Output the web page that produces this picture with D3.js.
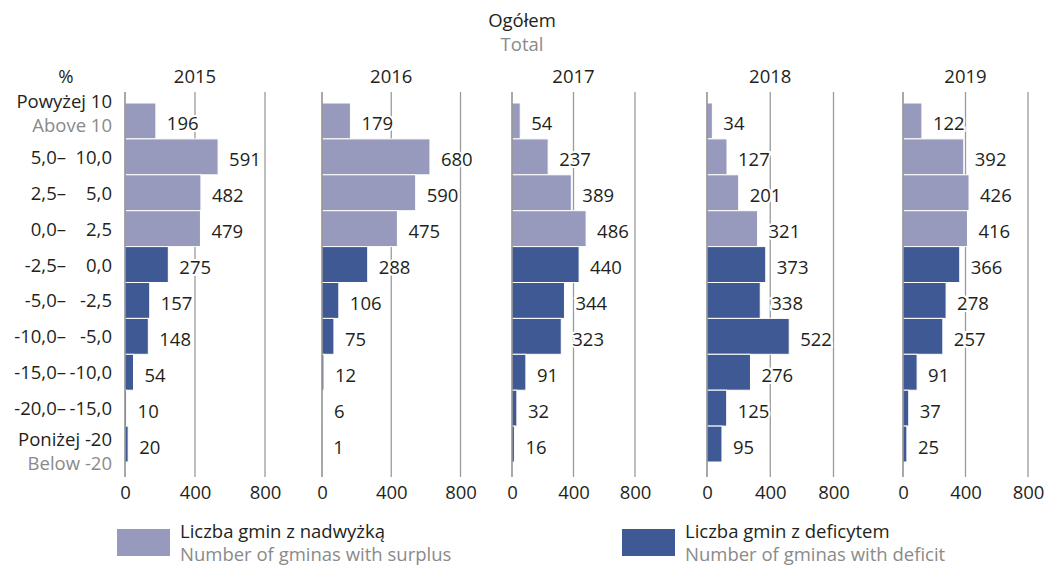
<!DOCTYPE html>
<html>
<head>
<meta charset="utf-8">
<script src="https://cdn.jsdelivr.net/npm/d3@7"></script>
<style>
    body { margin: 0; background: #fff; }
    svg { font-family: 'Open Sans', sans-serif; }
</style>
</head>
<body>
<div class="chart-container"></div>
<script>
// Data
const years = ['2015', '2016', '2017', '2018', '2019'];
const rangeFrom = ['Powyżej 10', '5,0–', '2,5–', '0,0–', '-2,5–', '-5,0–', '-10,0–', '-15,0–', '-20,0–', 'Poniżej -20'];
const rangeTo = ['', '10,0', '5,0', '2,5', '0,0', '-2,5', '-5,0', '-10,0', '-15,0', ''];
const rangeEn = ['Above 10', '', '', '', '', '', '', '', '', 'Below -20'];
const rowType = ['surplus', 'surplus', 'surplus', 'surplus', 'deficit', 'deficit', 'deficit', 'deficit', 'deficit', 'deficit'];
const values2015 = [196, 591, 482, 479, 275, 157, 148, 54, 10, 20];
const values2016 = [179, 680, 590, 475, 288, 106, 75, 12, 6, 1];
const values2017 = [54, 237, 389, 486, 440, 344, 323, 91, 32, 16];
const values2018 = [34, 127, 201, 321, 373, 338, 522, 276, 125, 95];
const values2019 = [122, 392, 426, 416, 366, 278, 257, 91, 37, 25];
const tickValues = [0, 400, 800];

const allValues = [values2015, values2016, values2017, values2018, values2019];

const colors = { surplus: '#989abd', deficit: '#3e5993' };
const textDark = '#231f20';
const textGray = '#8a8a8a';

// Layout
const svgWidth = 1048;
const svgHeight = 566;
const panelX = [125, 322, 512, 707, 903];
const barSpan = [126, 127, 122, 126, 124];    // pixels for 800 (bars)
const gridSpan = [140, 138.5, 123, 126.5, 125]; // pixels for 800 (grid/axis)
const rowTop = 103;
const rowBottom = 462;
const gridTop = 92;
const gridBottom = 477;
const fontSize = 18.5;

const svg = d3.select('.chart-container')
    .append('svg')
    .attr('width', svgWidth)
    .attr('height', svgHeight);

const yScale = d3.scaleBand()
    .domain(d3.range(rangeFrom.length))
    .range([rowTop, rowBottom])
    .padding(0);

// Title
svg.append('text')
    .attr('x', 522).attr('y', 27)
    .attr('text-anchor', 'middle')
    .attr('font-size', fontSize).attr('fill', textDark)
    .text('Ogółem');
svg.append('text')
    .attr('x', 522).attr('y', 51)
    .attr('text-anchor', 'middle')
    .attr('font-size', fontSize).attr('fill', textGray)
    .text('Total');

svg.append('text')
    .attr('x', 66).attr('y', 83)
    .attr('text-anchor', 'middle')
    .attr('font-size', fontSize).attr('fill', textDark)
    .text('%');

// Category labels
const cat = svg.append('g').attr('font-size', fontSize).attr('fill', textDark);
rangeFrom.forEach((d, i) => {
    const c = yScale(i) + yScale.bandwidth() / 2;
    if (rangeTo[i] === '') {
        const firstY = i === 0 ? c - 13 : c + 2;
        cat.append('text')
            .attr('x', 112).attr('y', firstY)
            .attr('text-anchor', 'end')
            .text(d);
        cat.append('text')
            .attr('x', 112).attr('y', firstY + 24)
            .attr('text-anchor', 'end')
            .attr('fill', textGray)
            .text(rangeEn[i]);
    } else {
        cat.append('text')
            .attr('x', 66).attr('y', c + 7)
            .attr('text-anchor', 'end')
            .text(d);
        cat.append('text')
            .attr('x', 112).attr('y', c + 7)
            .attr('text-anchor', 'end')
            .text(rangeTo[i]);
    }
});

// Panels
years.forEach((year, p) => {
    const values = allValues[p];
    const g = svg.append('g')
        .attr('transform', 'translate(' + panelX[p] + ',0)');

    const xBar = d3.scaleLinear().domain([0, 800]).range([0, barSpan[p]]);
    const xGrid = d3.scaleLinear().domain([0, 800]).range([0, gridSpan[p]]);

    // Grid lines
    g.selectAll('.grid')
        .data(tickValues.slice(1))
        .enter()
        .append('line')
        .attr('class', 'grid')
        .attr('x1', d => xGrid(d)).attr('x2', d => xGrid(d))
        .attr('y1', gridTop).attr('y2', gridBottom)
        .attr('stroke', '#9a9a9a')
        .attr('stroke-width', 1.3);

    // Bars
    g.selectAll('.bar')
        .data(values)
        .enter()
        .append('rect')
        .attr('class', 'bar')
        .attr('x', 0)
        .attr('y', (d, i) => yScale(i))
        .attr('width', d => xBar(d))
        .attr('height', yScale.bandwidth())
        .attr('fill', (d, i) => colors[rowType[i]])
        .attr('stroke', '#fff')
        .attr('stroke-width', 1);

    // Zero axis line
    g.append('line')
        .attr('x1', 0).attr('x2', 0)
        .attr('y1', gridTop).attr('y2', gridBottom)
        .attr('stroke', '#7a7a7a')
        .attr('stroke-width', 1.3);

    // Value labels
    g.selectAll('.value')
        .data(values)
        .enter()
        .append('text')
        .attr('class', 'value')
        .attr('x', d => xBar(d) + 11)
        .attr('y', (d, i) => yScale(i) + yScale.bandwidth() / 2 + 9.5)
        .attr('font-size', fontSize)
        .attr('fill', textDark)
        .attr('stroke', '#fff')
        .attr('stroke-width', 4)
        .attr('paint-order', 'stroke')
        .text(d => d);

    // Year title
    g.append('text')
        .attr('x', xGrid(400)).attr('y', 83)
        .attr('text-anchor', 'middle')
        .attr('font-size', fontSize).attr('fill', textDark)
        .text(year);

    // Axis
    const xAxis = d3.axisBottom(xGrid)
        .tickValues(tickValues)
        .tickSize(0)
        .tickPadding(0);
    const axisG = g.append('g')
        .attr('transform', 'translate(0,' + 486 + ')');
    xAxis(axisG);
    axisG.select('.domain').remove();
    axisG.selectAll('text')
        .attr('font-size', fontSize)
        .attr('font-family', "'Open Sans', sans-serif")
        .attr('fill', textDark);
});

// Legend
const legendItems = [
    { type: 'surplus', pl: 'Liczba gmin z nadwyżką', en: 'Number of gminas with surplus', x: 117 },
    { type: 'deficit', pl: 'Liczba gmin z deficytem', en: 'Number of gminas with deficit', x: 622 },
];
const legend = svg.selectAll('.legend')
    .data(legendItems)
    .enter()
    .append('g')
    .attr('class', 'legend')
    .attr('transform', d => 'translate(' + d.x + ',529)');
legend.append('rect')
    .attr('width', 53).attr('height', 27)
    .attr('fill', d => colors[d.type]);
legend.append('text')
    .attr('x', 63).attr('y', 9)
    .attr('font-size', fontSize).attr('fill', textDark)
    .text(d => d.pl);
legend.append('text')
    .attr('x', 63).attr('y', 32)
    .attr('font-size', fontSize).attr('fill', textGray)
    .text(d => d.en);
</script>
</body>
</html>
